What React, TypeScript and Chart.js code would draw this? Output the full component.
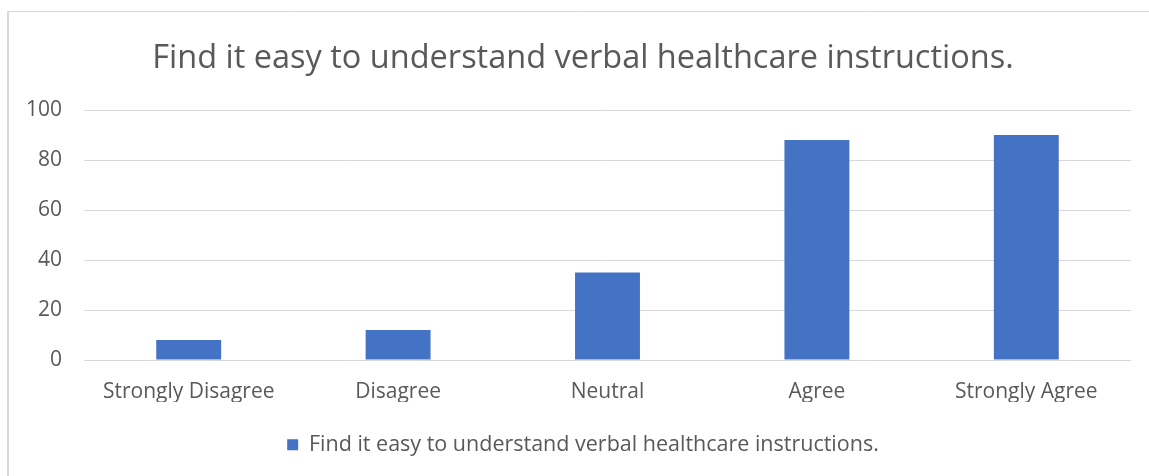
import React, { useEffect, useRef } from "react";
import { Chart, registerables } from "chart.js";

Chart.register(...registerables);

const categories = ["Strongly Disagree", "Disagree", "Neutral", "Agree", "Strongly Agree"];
const seriesName = "Find it easy to understand verbal healthcare instructions.";
const values = [8, 12, 35, 88, 90];
const titleText = "Find it easy to understand verbal healthcare instructions.";
const yMin = 0;
const yMax = 100;
const yStep = 20;

const TEXT = "#595959";
const GRID = "#d9d9d9";
const BAR = "#4472C4";
const FONT = "'Open Sans', 'Noto Sans', sans-serif";

const framePlugin = {
  id: "frame",
  afterLayout(chart: any) {
    const shift = 17.5;
    const boxes = [chart.titleBlock, chart.legend];
    for (const b of boxes) {
      if (b) {
        b.left += shift;
        b.right += shift;
      }
    }
  },
  beforeDraw(chart: any) {
    const ctx = chart.ctx;
    ctx.save();
    ctx.fillStyle = "#ffffff";
    ctx.fillRect(0, 0, chart.width, chart.height);
    ctx.strokeStyle = GRID;
    ctx.lineWidth = 1;
    ctx.beginPath();
    ctx.moveTo(7.5, chart.height + 2);
    ctx.lineTo(7.5, 11.5);
    ctx.lineTo(chart.width + 2, 11.5);
    ctx.stroke();
    ctx.beginPath();
    ctx.moveTo(8.5, chart.height + 2);
    ctx.lineTo(8.5, 11.5);
    ctx.stroke();
    ctx.restore();
  },
};

export default function App() {
  const ref = useRef<HTMLCanvasElement | null>(null);

  useEffect(() => {
    document.body.style.margin = "0";
    const canvas = ref.current;
    if (!canvas) return;
    const chart = new Chart(canvas, {
      type: "bar",
      data: {
        labels: categories,
        datasets: [
          {
            label: seriesName,
            data: values,
            backgroundColor: BAR,
            borderWidth: 0,
            barPercentage: 0.31,
            categoryPercentage: 1,
          },
        ],
      },
      options: {
        animation: false,
        responsive: false,
        maintainAspectRatio: false,
        devicePixelRatio: 1,
        layout: { padding: { top: 11, left: 0, right: 18, bottom: 10.5 } },
        plugins: {
          title: {
            display: true,
            text: titleText,
            color: TEXT,
            font: { family: FONT, size: 32.5, weight: "normal" as any, lineHeight: 1.2 },
            padding: { top: 28.5, bottom: 31.5 },
          },
          legend: {
            position: "bottom",
            labels: {
              color: TEXT,
              font: { family: FONT, size: 21.5 },
              boxWidth: 11,
              boxHeight: 11,
              padding: 32,
            },
          },
          tooltip: { enabled: false },
        },
        scales: {
          x: {
            grid: { display: false, drawTicks: false },
            border: { display: false },
            ticks: {
              color: TEXT,
              font: { family: FONT, size: 21 },
              padding: 19,
              maxRotation: 0,
              autoSkip: false,
            },
            afterFit(scale: any) {
              scale.height = 42;
            },
          },
          y: {
            min: yMin,
            max: yMax,
            grid: { color: GRID, lineWidth: 1, drawTicks: false },
            border: { display: false },
            ticks: {
              stepSize: yStep,
              color: TEXT,
              font: { family: FONT, size: 21 },
              padding: 22,
            },
            afterFit(scale: any) {
              scale.width = 84;
            },
          },
        },
      },
      plugins: [framePlugin],
    });
    return () => chart.destroy();
  }, []);

  return (
    <div style={{ width: 1149, height: 476, position: "relative" }}>
      <canvas ref={ref} width={1149} height={476} style={{ display: "block", width: 1149, height: 476 }} />
    </div>
  );
}
